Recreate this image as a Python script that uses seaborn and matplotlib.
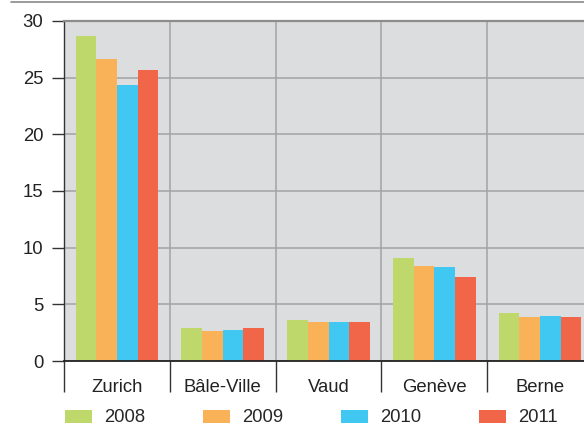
import numpy as np
import pandas as pd
import seaborn as sns
import matplotlib.pyplot as plt
from matplotlib.lines import Line2D

cantons = ['Zurich', 'Bâle-Ville', 'Vaud', 'Genève', 'Berne']
years = ['2008', '2009', '2010', '2011']
v2008 = [28.7, 2.9, 3.6, 9.1, 4.25]
v2009 = [26.65, 2.65, 3.45, 8.4, 3.9]
v2010 = [24.35, 2.75, 3.4, 8.3, 4.0]
v2011 = [25.7, 2.9, 3.45, 7.4, 3.9]
colors = ['#BED86B', '#FAB259', '#41C8F2', '#F16648']

df = pd.DataFrame({
    'canton': cantons * 4,
    'year': np.repeat(years, len(cantons)),
    'value': v2008 + v2009 + v2010 + v2011,
})

sns.set_theme(style='white')
plt.rcParams['font.family'] = ['Liberation Sans', 'DejaVu Sans']
fs = 13.3

fig = plt.figure(figsize=(5.84, 4.25), dpi=100)
ax = fig.add_axes([64/584, 1 - 361/425, 520/584, 340/425])
ax.set_facecolor('#DCDDDF')

sns.barplot(df, x='canton', y='value', hue='year', palette=colors,
            width=0.78, saturation=1, linewidth=0, ax=ax)

# category separators as minor ticks (set before xlim, set_xticks widens the view)
ax.set_xticks(np.arange(-0.5, 4, 1), minor=True)
ax.set_yticks(range(0, 31, 5))
ax.set_xlim(-0.5, -0.5 + 520/105.8)
ax.set_ylim(0, 30)
ax.set_xlabel('')
ax.set_ylabel('')

ax.set_axisbelow(True)
ax.grid(axis='y', which='major', color='#A3A3A3', lw=1.1)
ax.grid(axis='x', which='minor', color='#A3A3A3', lw=1.1)
ax.grid(axis='x', which='major', visible=False)

ax.tick_params(axis='x', which='major', length=0, pad=13, labelsize=fs, labelcolor='#222222')
ax.tick_params(axis='x', which='minor', bottom=True, length=22, width=1, color='#333333')
ax.tick_params(axis='y', left=True, length=9, width=1, color='#333333', pad=6,
               labelsize=fs, labelcolor='#222222')

ax.spines['right'].set_visible(False)
ax.spines['top'].set_color('#8C8C8C')
ax.spines['top'].set_linewidth(1.6)
ax.spines['left'].set_color('#333333')
ax.spines['left'].set_linewidth(1)
ax.spines['bottom'].set_color('#222222')
ax.spines['bottom'].set_linewidth(1.3)

handles, labels = ax.get_legend_handles_labels()
ax.get_legend().remove()
fig.legend(handles, labels, loc='center left',
           bbox_to_anchor=(65/584, 1 - 418/425), ncol=4, frameon=False,
           handlelength=1.46, handleheight=0.7, handletextpad=0.65,
           columnspacing=3.13, borderpad=0, borderaxespad=0, fontsize=fs)

fig.add_artist(Line2D([11/584, 1], [1 - 2/425] * 2, color='#8A8A8A', lw=1.2,
                      transform=fig.transFigure))

fig.savefig('out.png', dpi=100)
